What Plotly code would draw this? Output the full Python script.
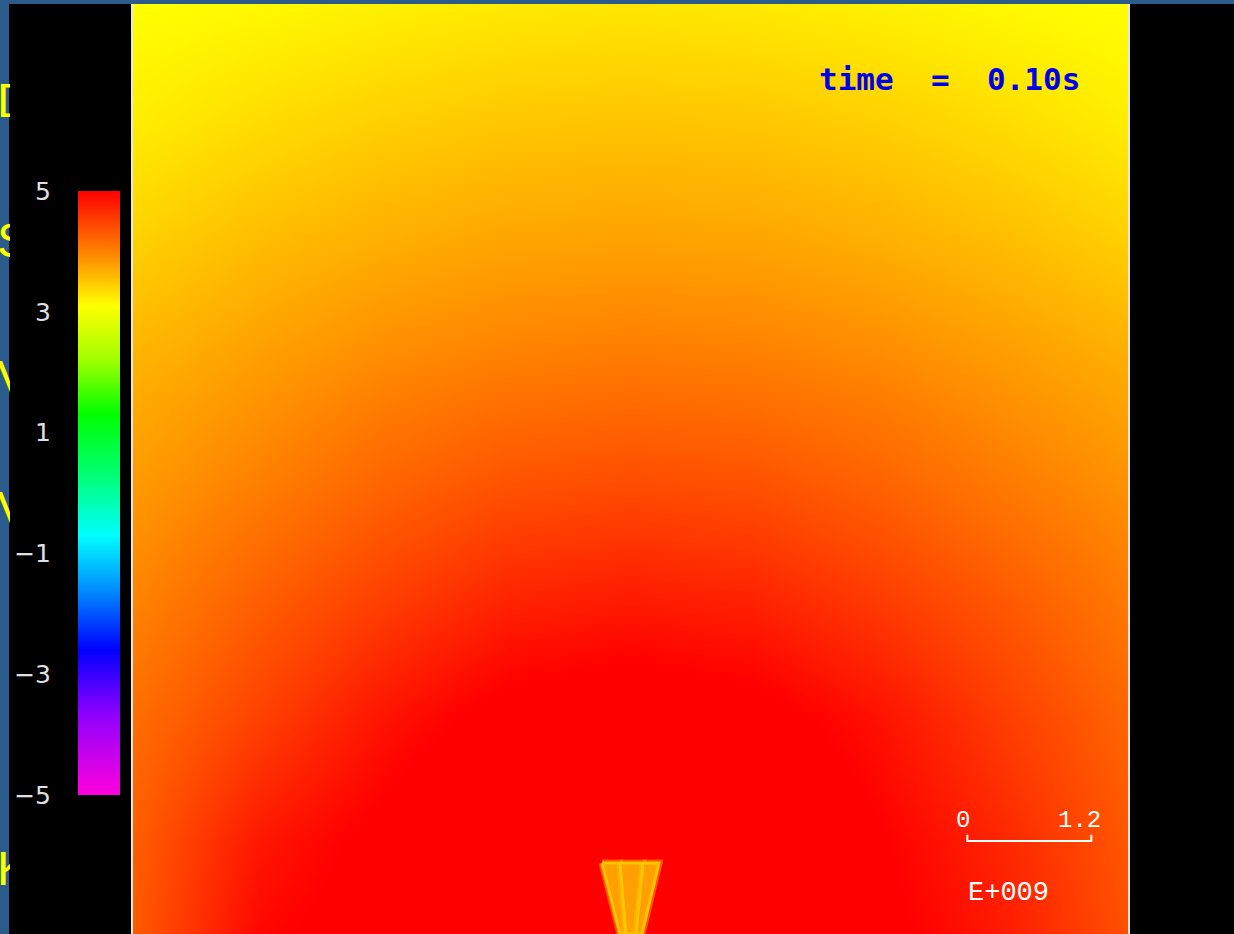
import plotly.graph_objects as go

# ---- field samples (pressure-like field, units of 1e9) ----
grid_x = [-4.8, -3.6, -2.4, -1.2, 0.0, 1.2, 2.4, 3.6, 4.8]
grid_y = [0.0, 0.9, 2.1, 3.2, 4.4, 5.6, 6.7, 7.9, 9.0]
field = [
    [4.31, 4.95, 5.14, 5.43, 5.58, 5.43, 5.08, 4.80, 4.38],
    [4.27, 4.82, 5.08, 5.38, 5.45, 5.38, 5.03, 4.70, 4.33],
    [4.15, 4.49, 4.85, 5.10, 5.19, 5.10, 4.87, 4.53, 4.21],
    [3.98, 4.27, 4.52, 4.73, 4.80, 4.74, 4.55, 4.32, 4.06],
    [3.81, 4.00, 4.20, 4.34, 4.39, 4.35, 4.22, 4.04, 3.87],
    [3.63, 3.78, 3.91, 3.99, 4.03, 4.00, 3.92, 3.80, 3.67],
    [3.43, 3.57, 3.67, 3.74, 3.76, 3.74, 3.67, 3.57, 3.44],
    [3.22, 3.34, 3.43, 3.49, 3.51, 3.49, 3.43, 3.34, 3.22],
    [3.10, 3.14, 3.20, 3.25, 3.27, 3.25, 3.20, 3.14, 3.10],
]

# ---- colour scale ----
cbar_min, cbar_max = -5, 5
cbar_ticks = [-5, -3, -1, 1, 3, 5]
cmap_values = [-5, -3.64, -2.6, -1.7, -0.7, 0.2, 1.3, 2.2, 3.1, 4.0, 5]
cmap_colors = ['#ff00dc', '#8c00ff', '#0000ff', '#0080ff', '#00ffff', '#00ff80',
               '#00ff00', '#a0ff00', '#ffff00', '#ff8000', '#ff0000']

# ---- nozzle geometry (x at top / bottom edges of three bands) ----
nozzle_top_y = 0.687
nozzle_x_top = [-0.276, -0.102, 0.121, 0.276]
nozzle_x_bottom = [-0.102, -0.044, 0.053, 0.111]

# ---- scale bar ----
scale_start = 3.26
scale_len = 1.2
scale_y = 0.90
scale_tick = 0.06

time_label = "time  =  0.10s"
exponent_label = "E+009"
side_letters = [("D", 100), ("S", 241), ("V", 378), ("V", 508), ("K", 868)]

W, H = 1234, 934
x_range = [-4.815, 4.815]
y_range = [0.0, 9.0]

colorscale = [[(v - cbar_min) / (cbar_max - cbar_min), c] for v, c in zip(cmap_values, cmap_colors)]

fig = go.Figure()

fig.add_trace(go.Heatmap(
    x=grid_x, y=grid_y, z=field,
    zmin=cbar_min, zmax=cbar_max, zsmooth="best",
    colorscale=colorscale, hoverinfo="skip",
    colorbar=dict(
        x=78 / W, xanchor="left", xpad=0,
        y=1 - 493 / H, yanchor="middle", ypad=0,
        len=604, lenmode="pixels", thickness=42, thicknessmode="pixels",
        outlinewidth=0, borderwidth=0, showticklabels=False, ticks="",
    ),
))

# nozzle bands: soft glow underneath, then the band itself
for i in range(3):
    xs = [nozzle_x_top[i], nozzle_x_top[i + 1], nozzle_x_bottom[i + 1], nozzle_x_bottom[i], nozzle_x_top[i]]
    ys = [nozzle_top_y, nozzle_top_y, 0, 0, nozzle_top_y]
    fig.add_trace(go.Scatter(
        x=xs, y=ys, mode="lines", line=dict(color="rgba(255,190,0,0.45)", width=7),
        hoverinfo="skip", showlegend=False,
    ))
    fig.add_trace(go.Scatter(
        x=xs, y=ys, mode="lines", fill="toself",
        fillcolor="#ffa000", line=dict(color="#ffc400", width=3),
        hoverinfo="skip", showlegend=False,
    ))

# helper axis carrying the colour-bar labels on its left side
fig.add_trace(go.Scatter(
    x=[0, 0], y=[cbar_min, cbar_max], xaxis="x2", yaxis="y2",
    mode="markers", marker=dict(opacity=0), hoverinfo="skip", showlegend=False,
))

shapes = [
    dict(type="rect", xref="paper", yref="paper", x0=9 / W, x1=1, y0=0, y1=1 - 4 / H,
         fillcolor="black", line=dict(width=0), layer="below"),
    dict(type="path", xref="x", yref="y",
         path=(f"M {scale_start},{scale_y + scale_tick} L {scale_start},{scale_y} "
               f"L {scale_start + scale_len},{scale_y} L {scale_start + scale_len},{scale_y + scale_tick}"),
         line=dict(color="white", width=2)),
]

mono = "DejaVu Sans Mono"
annotations = [
    dict(text=time_label, xref="paper", yref="paper", x=817 / W, y=1 - 79 / H,
         xanchor="left", yanchor="middle", showarrow=False,
         font=dict(family=mono, size=31, color="#0000e8", weight="bold")),
    dict(text="0", xref="x", yref="y", x=scale_start - 0.04, y=scale_y + 0.2,
         xanchor="center", yanchor="middle", showarrow=False,
         font=dict(family="Liberation Mono", size=24, color="white")),
    dict(text="1.2", xref="x", yref="y", x=scale_start + scale_len + 0.11, y=scale_y + 0.2,
         xanchor="right", yanchor="middle", showarrow=False,
         font=dict(family="Liberation Mono", size=24, color="white")),
    dict(text=exponent_label, xref="paper", yref="paper", x=966 / W, y=1 - 893 / H,
         xanchor="left", yanchor="middle", showarrow=False,
         font=dict(family="Liberation Mono", size=27, color="white")),
]
for letter, yc in side_letters:
    annotations.append(dict(
        text=letter, xref="paper", yref="paper", x=-4 / W, y=1 - yc / H,
        xanchor="left", yanchor="middle", showarrow=False, width=13, align="left",
        borderpad=0, font=dict(family="Liberation Sans", size=48, color="#ffff00"),
    ))

fig.update_layout(
    width=W, height=H,
    margin=dict(l=0, r=0, t=0, b=0, pad=0, autoexpand=False),
    paper_bgcolor="#2b5b8a",
    plot_bgcolor="black",
    showlegend=False,
    xaxis=dict(domain=[133 / W, 1128 / W], range=x_range, visible=False, fixedrange=True),
    yaxis=dict(domain=[0, 1 - 4 / H], range=y_range, showticklabels=False, ticks="",
               showgrid=False, zeroline=False, showline=True, mirror=True,
               linecolor="#e6e6e6", linewidth=2, fixedrange=True),
    xaxis2=dict(domain=[78 / W, 120 / W], anchor="y2", visible=False, fixedrange=True),
    yaxis2=dict(domain=[1 - 795 / H, 1 - 191 / H], anchor="x2", range=[cbar_min, cbar_max],
                side="left", tickvals=cbar_ticks, ticks="outside", ticklen=21,
                tickcolor="rgba(0,0,0,0)", showgrid=False, zeroline=False, showline=False,
                tickfont=dict(family="DejaVu Sans", size=25, color="#e0e0e0", weight="normal"),
                fixedrange=True),
    shapes=shapes,
    annotations=annotations,
)

fig.write_html("out.html")
